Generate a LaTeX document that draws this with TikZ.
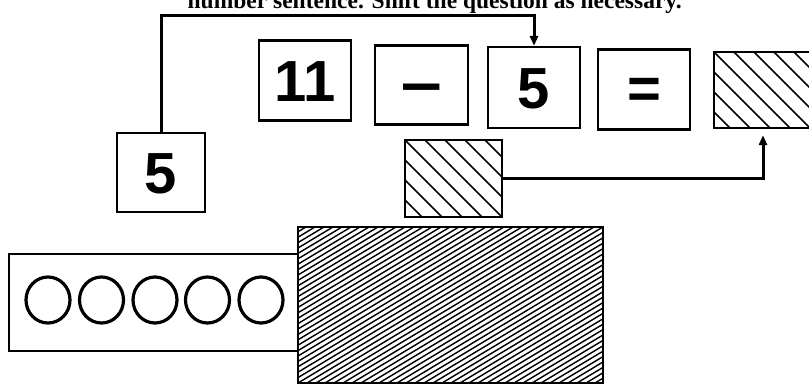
\documentclass[tikz,border=0pt]{standalone}
\usepackage{graphicx}
\usepackage{fontspec}
\setmainfont{Liberation Serif}
\newfontfamily\digitfont{Liberation Sans}
\usetikzlibrary{arrows.meta,shapes.geometric,calc}
\begin{document}
\begin{tikzpicture}[x=1pt,y=-1pt,
  card/.style={draw,line width=2.3pt,inner sep=0pt,text height=42pt,text depth=0pt,
    font=\digitfont\bfseries\fontsize{58}{58}\selectfont},
  backhatch/.style={path picture={
    \foreach \k in {-8,...,8}{
      \draw[line width=1.7pt] ($(path picture bounding box.north west)+(\k*20pt,0pt)$) -- ++(140pt,-140pt);}}},
  fwdhatch/.style={path picture={
    \foreach \k in {-32,...,36}{
      \draw[line width=1.4pt] ($(path picture bounding box.south west)+(\k*9pt,0pt)$) -- ++(400pt,240pt);}}},
  bead/.style={draw,ellipse,line width=3.2pt,minimum width=44pt,minimum height=46pt,inner sep=0pt},
  conn/.style={line width=3pt},
  tip/.style={-{Triangle[length=10pt,width=8pt]}}]
\useasboundingbox (0,0) rectangle (809,388);
\clip (0,0) rectangle (809,388);
\fill[white] (0,0) rectangle (809,388);

\node[anchor=base east,inner sep=0pt,font=\bfseries\fontsize{23.5}{24}\selectfont] (instr) at (682,9)
  {number sentence. Shift the question as necessary.};

\node[card,minimum width=92pt,minimum height=80pt] (n11) at (305,80.5) {11};
\node[card,minimum width=93pt,minimum height=79pt] (nminus) at (421.5,85) {\raisebox{0pt}{\scalebox{1.25}[1]{−}}};
\node[card,minimum width=92pt,minimum height=81pt] (n5) at (534,87.5) {5};
\node[card,minimum width=92pt,minimum height=80pt] (neq) at (644,89.5) {\raisebox{2pt}{=}};
\node[card,backhatch,minimum width=98pt,minimum height=76pt] (res) at (763,90) {};
\node[card,minimum width=88pt,minimum height=79pt] (n5l) at (161,172.5) {5};
\node[card,backhatch,minimum width=97pt,minimum height=77pt] (ans) at (453.5,178.5) {};

\node[card,minimum width=289pt,minimum height=97pt] (tray) at (153.5,302.5) {};
\foreach \cx/\nm in {48/c1,101.5/c2,155/c3,207.5/c4,261/c5}
  \node[bead] (\nm) at (\cx,300) {};
\node[card,fwdhatch,minimum width=305pt,minimum height=156pt] (cover) at (450.5,305) {};

\coordinate (topy) at (0,15);
\draw[conn,tip] (n5l.north) -- (n5l.north |- topy) -| (n5.north);
\draw[conn,tip] (ans.east) -| ([yshift=-6pt]res.south);
\end{tikzpicture}
\end{document}
